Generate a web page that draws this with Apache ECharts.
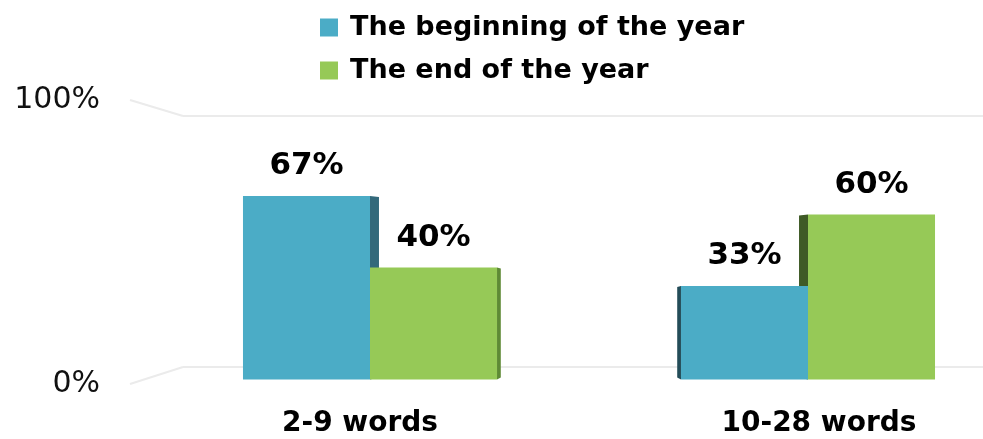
<!DOCTYPE html>
<html><head><meta charset="utf-8">
<script src="https://cdn.jsdelivr.net/npm/echarts@6/dist/echarts.min.js"></script>
<style>html,body{margin:0;padding:0;background:#fff}#c{width:983px;height:439px}</style>
</head><body><div id="c"></div>
<script>
const categories = ['2-9 words', '10-28 words'];
const seriesNames = ['The beginning of the year', 'The end of the year'];
const beginValues = [67, 33];
const endValues = [40, 60];
const yTicks = [0, 100];

const FRONT = ['#4BACC6', '#96C957'];
const SIDE_RIGHT = ['#33697B', '#5E8A35'];
const SIDE_LEFT = ['#234C58', '#3F5A26'];
const FONT = '"DejaVu Sans", Verdana, sans-serif';

function makeRender(sIdx) {
  return function (params, api) {
    const ci = api.value(0);
    const v = api.value(1);
    const c = api.coord([ci, v]);
    const base = api.coord([ci, 0]);
    const band = api.size([1, 0])[0];
    const w = band * 0.29;
    const x0 = sIdx === 0 ? c[0] - w : c[0];
    const x1 = x0 + w;
    const top = c[1];
    const bot = base[1] + 6;
    const vx = (api.coord([0, 0])[0] + api.coord([categories.length - 1, 0])[0]) / 2;
    const k = 0.041;
    let side;
    if (x1 <= vx) {
      const d = k * (vx - x1);
      side = { type: 'polygon', z2: 1, shape: { points: [[x1, top], [x1 + d, top + 1], [x1 + d, bot - 2], [x1, bot]] }, style: { fill: SIDE_RIGHT[sIdx] } };
    } else {
      const d = k * (x0 - vx);
      side = { type: 'polygon', z2: 1, shape: { points: [[x0, top], [x0 - d, top + 1], [x0 - d, bot - 2], [x0, bot]] }, style: { fill: SIDE_LEFT[sIdx] } };
    }
    return {
      type: 'group',
      children: [
        side,
        { type: 'rect', z2: 10, shape: { x: x0, y: top, width: w, height: bot - top }, style: { fill: FRONT[sIdx] } },
        { type: 'text', z2: 20, style: { text: v + '%', x: (x0 + x1) / 2, y: top - 30, align: 'center', verticalAlign: 'middle', font: 'bold 31px ' + FONT, fill: '#000' } }
      ]
    };
  };
}

const labelStyle = { fontFamily: FONT, fontWeight: 'bold', fontSize: 28, color: '#000' };
const chart = echarts.init(document.getElementById('c'), null, { renderer: 'canvas' });
const option = {
  animation: false,
  backgroundColor: '#fff',
  legend: {
    orient: 'vertical', left: 315, top: 9, itemWidth: 18, itemHeight: 18, itemGap: 16, icon: 'rect',
    data: seriesNames,
    textStyle: { fontFamily: FONT, fontWeight: 'bold', fontSize: 27, color: '#000', padding: [0, 0, 0, 7] }
  },
  grid: [
    { left: 151, width: 876, top: 108.7, bottom: 65.6, outerBoundsMode: 'none', containLabel: false },
    { left: 183, right: 0, top: 116, bottom: 72, outerBoundsMode: 'none' },
    { left: 130, right: 0, top: 100, bottom: 55, outerBoundsMode: 'none' }
  ],
  xAxis: [
    { type: 'category', gridIndex: 0, data: categories, axisLine: { show: false }, axisTick: { show: false },
      axisLabel: { margin: 36, ...labelStyle,
        formatter: (v, i) => (i === 0 ? '{l|' : '{r|') + v + '}',
        rich: { l: { ...labelStyle, padding: [0, 20, 0, 0] }, r: { ...labelStyle, padding: [0, 0, 0, 22] } } } },
    { type: 'value', gridIndex: 1, min: 0, max: 1, show: false },
    { type: 'value', gridIndex: 2, min: 0, max: 1, show: false }
  ],
  yAxis: [
    { type: 'value', gridIndex: 0, min: yTicks[0], max: yTicks[yTicks.length - 1], show: false },
    { type: 'value', gridIndex: 1, min: yTicks[0], max: yTicks[yTicks.length - 1], interval: 100,
      axisLine: { show: false }, axisTick: { show: false }, axisLabel: { show: false },
      splitLine: { show: true, lineStyle: { color: '#EBEBEB', width: 2 } } },
    { type: 'value', gridIndex: 2, min: yTicks[0], max: yTicks[yTicks.length - 1], interval: 100,
      axisLine: { show: false }, axisTick: { show: false }, splitLine: { show: false },
      axisLabel: { margin: 30, fontFamily: FONT, fontSize: 30, color: '#111', formatter: v => v + '%' } }
  ],
  series: [
    { name: seriesNames[0], type: 'custom', xAxisIndex: 0, yAxisIndex: 0, itemStyle: { color: FRONT[0] },
      renderItem: makeRender(0), encode: { x: 0, y: 1 }, data: beginValues.map((v, i) => [i, v]) },
    { name: seriesNames[1], type: 'custom', xAxisIndex: 0, yAxisIndex: 0, itemStyle: { color: FRONT[1] },
      renderItem: makeRender(1), encode: { x: 0, y: 1 }, data: endValues.map((v, i) => [i, v]) }
  ]
};
chart.setOption(option);

const lines = yTicks.map(t => {
  const a = chart.convertToPixel({ gridIndex: 2 }, [0, t]);
  const b = chart.convertToPixel({ gridIndex: 1 }, [0, t]);
  return { type: 'line', z: 0, shape: { x1: a[0], y1: a[1], x2: b[0], y2: b[1] }, style: { stroke: '#EBEBEB', lineWidth: 2 } };
});
chart.setOption({ graphic: lines });
</script>
</body></html>
